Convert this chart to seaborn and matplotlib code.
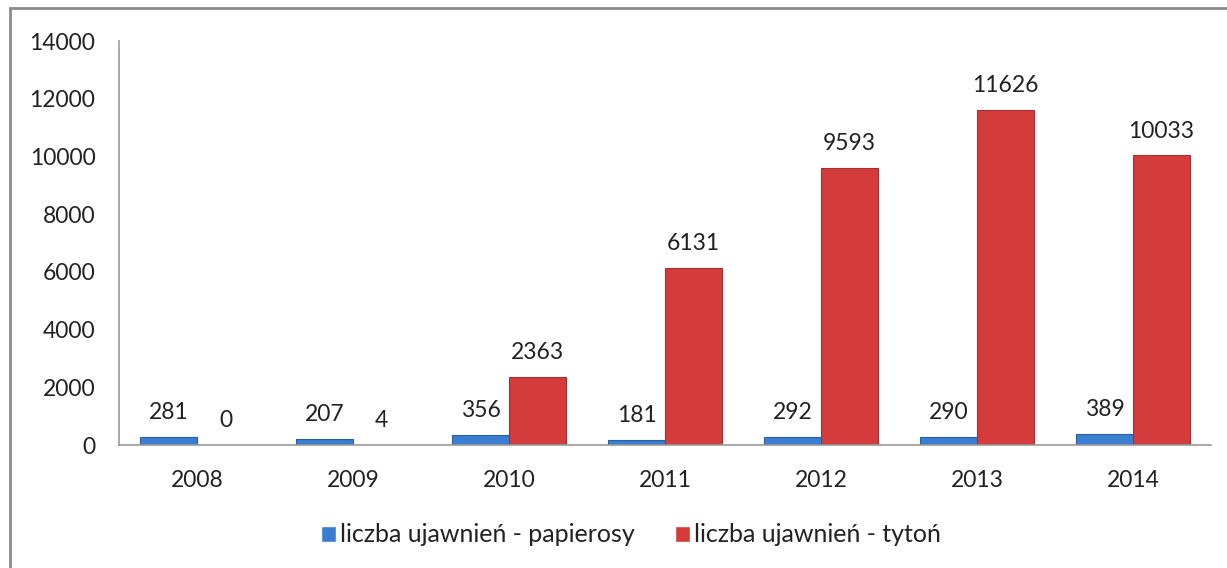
import matplotlib
matplotlib.use("Agg")
import matplotlib.pyplot as plt
import seaborn as sns
import pandas as pd
from matplotlib.patches import Rectangle

years = ["2008", "2009", "2010", "2011", "2012", "2013", "2014"]
papierosy = [281, 207, 356, 181, 292, 290, 389]
tyton = [0, 4, 2363, 6131, 9593, 11626, 10033]
series_names = ["liczba ujawnień - papierosy", "liczba ujawnień - tytoń"]

df = pd.DataFrame({
    "year": years * 2,
    "value": papierosy + tyton,
    "series": [series_names[0]] * len(years) + [series_names[1]] * len(years),
})

sns.set_theme(style="white")
plt.rcParams['font.family'] = ['Lato', 'DejaVu Sans']

fig = plt.figure(figsize=(12.27, 5.68), dpi=100)
ax = fig.add_axes([119/1227, 1 - 445/568, (1211-119)/1227, (445-41)/568])

blue = "#3A7ED2"
red = "#D43C3C"
sns.barplot(data=df, x="year", y="value", hue="series", palette=[blue, red],
            width=0.73, ax=ax, saturation=1, legend=True)

edges = ["#2A5E9E", "#A52E2E"]
for cont, ec in zip(ax.containers, edges):
    for bar in cont:
        bar.set_edgecolor(ec)
        bar.set_linewidth(0.8)
    ax.bar_label(cont, fmt="%d", padding=10, fontsize=16.5, color="#222222")

ax.set_xlim(-0.5, 6.5)
ax.set_ylim(0, 14000)
ax.set_yticks(range(0, 14001, 2000))
ax.set_xlabel("")
ax.set_ylabel("")
ax.tick_params(axis="y", length=0, pad=17, labelsize=16.5, labelcolor="#222222")
ax.tick_params(axis="x", length=0, pad=18, labelsize=16.5, labelcolor="#222222")
for s in ["top", "right"]:
    ax.spines[s].set_visible(False)
for s in ["left", "bottom"]:
    ax.spines[s].set_color("#9a9a9a")
    ax.spines[s].set_linewidth(1.2)

leg = ax.legend(loc="center", bbox_to_anchor=(631/1227, 1 - 535/568),
                bbox_transform=fig.transFigure, ncol=2, frameon=False,
                fontsize=18, handlelength=0.6, handleheight=0.6,
                handletextpad=0.15, columnspacing=1.6)
for t in leg.get_texts():
    t.set_color("#222222")

fig.patches.append(Rectangle((10/1227, -0.05), 1.2, 1 - 8/568 + 0.05,
                             transform=fig.transFigure, fill=False,
                             edgecolor="#8a8a8a", linewidth=2))

fig.savefig("out.png", dpi=100, facecolor="white")
